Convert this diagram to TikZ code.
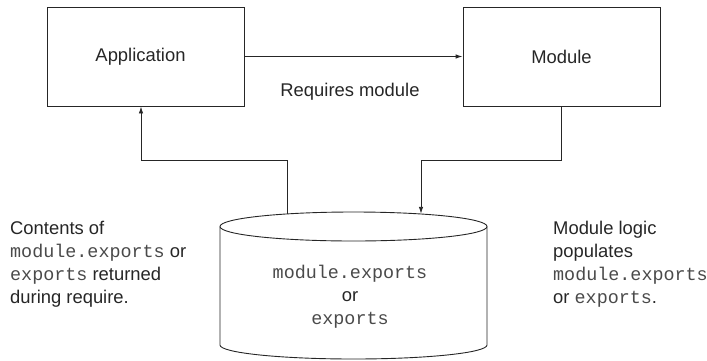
\documentclass[tikz,border=0pt]{standalone}
\usepackage{fontspec}
\setmainfont{Liberation Sans}
\setmonofont{Liberation Mono}
\usetikzlibrary{arrows.meta}
\definecolor{ink}{HTML}{262626}
\definecolor{monoink}{HTML}{4a4a4a}
\newcommand{\codetext}[1]{\textcolor{monoink}{\texttt{#1}}}
\begin{document}
\begin{tikzpicture}[x=1pt,y=-1pt,
  every node/.style={text=ink},
  txt/.style={font=\fontsize{18.4}{23}\selectfont, inner sep=0pt},
  boxnode/.style={draw=ink, line width=0.9pt, minimum width=197pt, minimum height=99pt, inner sep=0pt, font=\fontsize{18.4}{23}\selectfont},
  arr/.style={draw=ink, line width=0.9pt, -{Latex[length=7pt,width=4.5pt]}},
  conn/.style={draw=ink, line width=0.9pt}]
\useasboundingbox (0,0) rectangle (707,360);
\node[boxnode] (app) at (145.5,56.5) {};
\node[txt] (applabel) at (140.5,57) {Application};
\node[boxnode] (mod) at (561.5,56.5) {Module};
\node[txt] (req) at (350,92) {Requires module};
\draw[arr] (app.east) -- (mod.east -| mod.west);
% cylinder
\draw[conn] (353.5,226.5) ellipse [x radius=133.5pt, y radius=14.5pt];
\draw[conn] (220,226.5) -- (220,345) arc [start angle=180, end angle=360, x radius=133.5pt, y radius=14pt] -- (487,226.5);
\coordinate (tl) at (287,213.9);
\coordinate (tr) at (421,213.8);
\node[txt, align=center] (store) at (350,297) {\codetext{module.exports}\\or\\\codetext{exports}};
\draw[arr] (tl) -- ++(0,-53.9) -| ([xshift=-4.5pt]app.south);
\draw[arr] (mod.south) -- ++(0,54) -| (tr);
\node[txt, align=left, anchor=north west] (left) at (10,221) {Contents of\\\codetext{module.exports} or\\\codetext{exports} returned\\during require.};
\node[txt, align=left, anchor=north west] (right) at (553,221) {Module logic\\populates\\\codetext{module.exports}\\or \codetext{exports}.};
\end{tikzpicture}
\end{document}
